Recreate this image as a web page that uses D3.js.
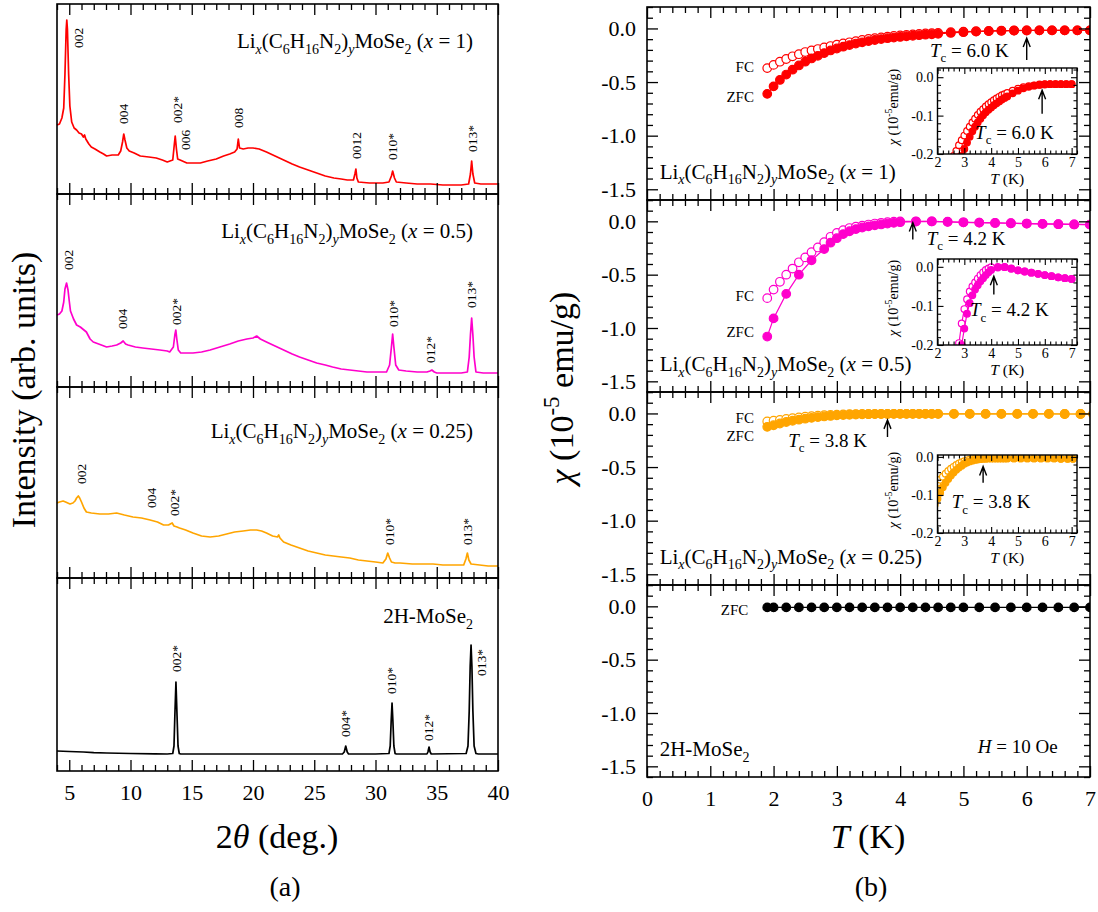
<!DOCTYPE html>
<meta charset="utf-8">
<style>
  body { margin: 0; background: #fff; }
  svg text { font-family: "Liberation Serif", "Times New Roman", serif; fill: #000; }
  .frame { fill: none; stroke: #000; stroke-width: 1.6; }
</style>
<body>
<svg id="fig" width="1098" height="912" font-family="Liberation Serif"></svg>
<script src="https://cdnjs.cloudflare.com/ajax/libs/d3/7.8.5/d3.min.js"></script>
<script>
// ---------- (a) XRD : [2theta, intensity (arb.)] ----------
var xrdTicks = [5, 10, 15, 20, 25, 30, 35, 40];

var xrdRed = [[4.0,69],[4.2,70],[4.4,76],[4.55,86],[4.65,120],[4.75,165],[4.8,174],[4.85,165],[4.95,120],[5.05,88],[5.2,72],[5.4,66],[5.6,64],[5.8,61],[6.0,60],[6.15,57],[6.25,59],[6.35,55],[6.6,50],[6.8,47],[7.1,45],[7.5,42],[7.8,40],[8.05,38],[8.5,39],[9.0,39],[9.2,43],[9.35,52],[9.45,60],[9.55,54],[9.7,46],[9.9,43],[10.3,41],[10.8,38],[11.5,37],[12.1,36],[12.6,34],[13.0,32],[13.45,34],[13.58,50],[13.65,58],[13.75,45],[13.85,35],[14.05,34],[14.6,31],[15.2,31],[15.7,31],[16.3,33],[17.0,35],[17.6,38],[18.1,40],[18.5,42],[18.7,45],[18.8,55],[18.9,46],[19.2,45],[19.6,46],[20.0,46],[20.5,45],[21.1,42],[21.8,38],[22.5,34],[23.2,30],[23.8,27],[24.5,24],[25.2,21],[25.9,18],[26.6,16],[27.2,15],[27.7,14],[28.2,14],[28.32,20],[28.4,25],[28.48,16],[28.6,12],[29.5,11],[30.6,11],[31.1,12],[31.3,18],[31.4,23],[31.55,16],[31.7,12],[32.5,11],[33.4,10],[34.5,10],[35.5,9],[36.1,9],[37.0,9],[37.6,10],[37.75,20],[37.85,33],[37.95,20],[38.1,11],[38.6,10],[39.3,10],[40,10]];
var xrdMagenta = [[4.0,72],[4.2,73],[4.4,76],[4.55,85],[4.65,98],[4.78,104],[4.9,97],[5.0,86],[5.1,76],[5.35,68],[5.6,62],[5.9,60],[6.2,57],[6.4,55],[6.7,48],[6.96,45],[7.4,43],[8.05,40],[8.5,41],[8.87,42],[9.2,44],[9.4,46],[9.6,43],[9.8,42],[10.4,40],[11.0,39],[11.7,38],[12.4,37],[13.0,36],[13.2,35],[13.5,40],[13.62,52],[13.7,57],[13.78,48],[13.9,37],[14.1,34],[14.6,34],[15.1,34],[15.8,35],[16.5,37],[17.3,40],[18.1,43],[18.8,46],[19.5,48],[20.0,49],[20.3,51],[20.6,48],[21.1,45],[21.8,41],[22.5,37],[23.2,33],[23.8,30],[24.5,27],[25.2,24],[25.9,22],[26.5,20],[27.2,18],[27.9,17],[28.6,16],[29.3,15],[30.1,15],[30.9,15],[31.15,22],[31.3,40],[31.4,53],[31.5,40],[31.65,22],[31.9,17],[32.5,16],[33.4,15],[34.2,15],[34.45,16],[34.6,17],[34.8,15],[35.0,14],[36.0,14],[37.0,14],[37.5,15],[37.65,30],[37.75,52],[37.85,69],[37.95,52],[38.05,30],[38.2,15],[38.8,14],[39.5,14],[40,14]];
var xrdOrange = [[4.0,75],[4.2,76],[4.5,77],[4.7,76],[5.06,74],[5.3,75],[5.47,77],[5.6,80],[5.74,82],[5.85,80],[6.0,76],[6.2,70],[6.4,66],[6.8,65],[7.5,64],[8.2,64],[8.87,65],[9.5,63],[10.2,61],[10.9,60],[11.6,58],[12.2,56],[12.7,53],[13.1,53],[13.4,55],[13.55,52],[13.8,51],[14.0,50],[14.5,48],[15.1,45],[15.8,42],[16.5,41],[17.2,42],[17.85,44],[18.5,46],[19.2,47],[19.8,48],[20.3,48],[20.7,47],[21.1,45],[21.6,42],[22.0,41],[22.1,43],[22.2,40],[22.5,36],[23.1,33],[23.8,30],[24.5,27],[25.2,25],[25.9,23],[26.55,22],[27.2,21],[27.9,20],[28.6,18],[29.3,17],[30.0,16],[30.6,15],[30.85,19],[31.0,25],[31.15,20],[31.3,16],[31.6,15],[32.0,15],[33.0,14],[34.0,14],[34.7,14],[35.5,13],[36.5,13],[37.2,13],[37.38,19],[37.5,25],[37.62,18],[37.8,14],[38.5,13],[39.2,12],[40,12]];
var xrdBlack = [[4.0,20],[5.0,19.5],[6.15,19],[7.0,18.3],[8.05,18],[10.0,17.5],[12.0,17.2],[13.0,17],[13.45,17.5],[13.55,25],[13.62,55],[13.71,89],[13.8,55],[13.88,25],[13.98,17.5],[14.1,17],[18.0,17],[22.0,17],[27.3,17],[27.45,19],[27.57,25],[27.69,19],[27.8,17],[30.0,17],[31.1,17.5],[31.2,25],[31.28,50],[31.35,68],[31.42,50],[31.5,25],[31.6,17.5],[31.7,17],[34.2,17],[34.28,19],[34.37,24],[34.46,19],[34.55,17],[37.4,17.5],[37.55,25],[37.65,60],[37.73,105],[37.8,126],[37.87,105],[37.95,60],[38.05,25],[38.2,17.5],[38.4,17],[40,17]];

// peak index labels: [label, 2theta, intensity at foot of label]
var peaksRed = [["002",5.75,146],["004",9.39,70],["002*",13.8,71],["006",14.5,44],["008",18.78,66],["0012",28.4,35],["010*",31.4,34],["013*",37.88,42]];
var peaksMagenta = [["002",4.93,117],["004",9.36,58],["002*",13.77,62],["010*",31.45,60],["012*",34.5,24],["013*",37.85,79]];
var peaksOrange = [["002",6.0,94],["004",11.73,70],["002*",13.55,62],["010*",31.13,33],["013*",37.53,33]];
var peaksBlack = [["002*",13.71,99],["004*",27.57,34],["010*",31.32,77],["012*",34.31,30],["013*",38.67,95]];

// ---------- (b) susceptibility : [T (K), chi (1e-5 emu/g)] ----------
var tTicks = [0, 1, 2, 3, 4, 5, 6, 7];
var chiTicks = [0, -0.5, -1.0, -1.5];
var chiTickLabels = ["0.0", "-0.5", "-1.0", "-1.5"];
var insetTTicks = [2, 3, 4, 5, 6, 7];
var insetChiTicks = [0, -0.1, -0.2];
var insetChiLabels = ["0.0", "-0.1", "-0.2"];
var tcValues = ["6.0", "4.2", "3.8"];
var xValues = ["1", "0.5", "0.25"];

var chiRedZFC = [[1.9,-0.61],[2.0,-0.54],[2.1,-0.48],[2.2,-0.43],[2.3,-0.385],[2.4,-0.345],[2.5,-0.31],[2.6,-0.28],[2.7,-0.255],[2.8,-0.23],[2.9,-0.205],[3.0,-0.187],[3.1,-0.17],[3.2,-0.155],[3.3,-0.141],[3.4,-0.129],[3.5,-0.118],[3.6,-0.108],[3.7,-0.099],[3.8,-0.091],[3.9,-0.085],[4.0,-0.079],[4.1,-0.073],[4.2,-0.068],[4.3,-0.063],[4.4,-0.058],[4.5,-0.054],[4.6,-0.05],[4.8,-0.042],[5.0,-0.035],[5.2,-0.029],[5.4,-0.025],[5.6,-0.022],[5.8,-0.02],[6.0,-0.019],[6.2,-0.018],[6.4,-0.018],[6.6,-0.018],[6.8,-0.018],[7.0,-0.018]];
var chiRedFC = [[1.9,-0.37],[2.0,-0.34],[2.1,-0.31],[2.2,-0.285],[2.3,-0.26],[2.4,-0.24],[2.5,-0.22],[2.6,-0.205],[2.7,-0.192],[2.8,-0.177],[2.9,-0.164],[3.0,-0.152],[3.1,-0.14],[3.2,-0.129],[3.3,-0.118],[3.4,-0.108],[3.5,-0.098],[3.6,-0.09],[3.7,-0.083],[3.8,-0.076],[3.9,-0.07],[4.0,-0.065],[4.1,-0.06],[4.2,-0.055],[4.3,-0.051],[4.4,-0.047],[4.5,-0.044],[4.6,-0.041],[4.8,-0.035],[5.0,-0.03],[5.2,-0.026],[5.4,-0.023],[5.6,-0.021],[5.8,-0.019],[6.0,-0.018],[6.2,-0.018],[6.4,-0.018],[6.6,-0.018],[6.8,-0.018],[7.0,-0.018]];
var chiMagZFC = [[1.9,-1.08],[2.0,-0.91],[2.2,-0.68],[2.4,-0.5],[2.6,-0.365],[2.8,-0.26],[2.9,-0.2],[3.0,-0.158],[3.1,-0.12],[3.2,-0.093],[3.3,-0.073],[3.4,-0.058],[3.5,-0.047],[3.6,-0.037],[3.7,-0.029],[3.8,-0.021],[3.9,-0.014],[4.0,-0.008],[4.25,-0.002],[4.5,0.0],[4.75,-0.004],[5.0,-0.009],[5.25,-0.012],[5.5,-0.015],[5.75,-0.018],[6.0,-0.021],[6.25,-0.024],[6.5,-0.027],[6.75,-0.029],[7.0,-0.031]];
var chiMagFC = [[1.9,-0.72],[2.0,-0.64],[2.1,-0.567],[2.2,-0.5],[2.3,-0.443],[2.4,-0.384],[2.5,-0.338],[2.6,-0.29],[2.7,-0.245],[2.8,-0.195],[2.9,-0.145],[3.0,-0.108],[3.1,-0.083],[3.2,-0.063],[3.3,-0.05],[3.4,-0.04],[3.5,-0.03],[3.6,-0.021],[3.7,-0.014],[3.8,-0.008],[3.9,-0.004],[4.0,-0.001],[4.25,0.0],[4.5,-0.001],[4.75,-0.005],[5.0,-0.009],[5.25,-0.012],[5.5,-0.015],[5.75,-0.018],[6.0,-0.021],[6.25,-0.024],[6.5,-0.027],[6.75,-0.029],[7.0,-0.031]];
var chiOrZFC = [[1.9,-0.125],[2.0,-0.11],[2.1,-0.094],[2.2,-0.08],[2.3,-0.068],[2.4,-0.058],[2.5,-0.049],[2.6,-0.041],[2.7,-0.034],[2.8,-0.028],[2.9,-0.023],[3.0,-0.018],[3.1,-0.015],[3.2,-0.012],[3.3,-0.01],[3.4,-0.008],[3.5,-0.007],[3.6,-0.006],[3.7,-0.005],[3.8,-0.005],[3.9,-0.004],[4.0,-0.004],[4.1,-0.004],[4.2,-0.004],[4.3,-0.004],[4.4,-0.004],[4.5,-0.004],[4.6,-0.004],[4.85,-0.004],[5.1,-0.004],[5.35,-0.004],[5.6,-0.004],[5.85,-0.004],[6.1,-0.004],[6.35,-0.004],[6.6,-0.005],[6.85,-0.005],[7.05,-0.005]];
var chiOrFC = [[1.9,-0.075],[2.0,-0.068],[2.1,-0.06],[2.2,-0.052],[2.3,-0.044],[2.4,-0.037],[2.5,-0.031],[2.6,-0.026],[2.7,-0.021],[2.8,-0.017],[2.9,-0.014],[3.0,-0.011],[3.1,-0.009],[3.2,-0.007],[3.3,-0.006],[3.4,-0.005],[3.5,-0.005],[3.6,-0.004],[3.7,-0.004],[3.8,-0.004],[3.9,-0.004],[4.0,-0.004],[4.1,-0.004],[4.2,-0.004],[4.3,-0.004],[4.4,-0.004],[4.5,-0.004],[4.6,-0.004],[4.85,-0.004],[5.1,-0.004],[5.35,-0.004],[5.6,-0.004],[5.85,-0.004],[6.1,-0.004],[6.35,-0.004],[6.6,-0.005],[6.85,-0.005],[7.05,-0.005]];
var chiBlackZFC = [[1.9,-0.01],[2.0,-0.01],[2.2,-0.01],[2.4,-0.01],[2.6,-0.01],[2.8,-0.01],[3.0,-0.01],[3.2,-0.01],[3.4,-0.01],[3.6,-0.01],[3.8,-0.01],[4.0,-0.01],[4.2,-0.01],[4.4,-0.01],[4.6,-0.01],[4.8,-0.01],[5.0,-0.01],[5.25,-0.01],[5.5,-0.01],[5.75,-0.01],[6.0,-0.01],[6.25,-0.01],[6.5,-0.01],[6.75,-0.01],[7.0,-0.01]];

var colors = ["#ff0000", "#ff00cc", "#ffa500", "#000000"];

// ---------- helpers ----------
var svg = d3.select("#fig");
var serif = "Liberation Serif";

function rich(sel, parts, size) {
  var off = 0;
  parts.forEach(function(p) {
    var shift = p.sub ? size * 0.28 : (p.sup ? -size * 0.42 : 0);
    var ts = sel.append("tspan").attr("dy", shift - off).text(p.t);
    if (p.sub || p.sup) ts.style("font-size", Math.round(size * 0.68) + "px");
    if (p.it) ts.style("font-style", "italic");
    off = shift;
  });
  return sel;
}
function formula(x) {
  return [{t:"Li"},{t:"x",sub:1,it:1},{t:"(C"},{t:"6",sub:1},{t:"H"},{t:"16",sub:1},{t:"N"},{t:"2",sub:1},{t:")"},{t:"y",sub:1,it:1},{t:"MoSe"},{t:"2",sub:1},{t:" ("},{t:"x",it:1},{t:" = " + x + ")"}];
}
var mose2 = [{t:"2H-MoSe"},{t:"2",sub:1}];
function tcParts(v) { return [{t:"T",it:1},{t:"c",sub:1},{t:" = " + v + " K"}]; }

function ticksX(g, x, yPos, values, len, dir, w) {
  g.append("g").attr("transform", "translate(0," + yPos + ")")
    .call(d3.axisBottom(x).tickValues(values).tickSize(len * dir).tickFormat(""))
    .call(function(a) { a.select(".domain").remove(); a.selectAll("text").remove(); a.selectAll("line").attr("stroke-width", w || 1.3); });
}
function ticksY(g, y, xPos, values, len, dir, w) {
  g.append("g").attr("transform", "translate(" + xPos + ",0)")
    .call(d3.axisRight(y).tickValues(values).tickSize(len * dir).tickFormat(""))
    .call(function(a) { a.select(".domain").remove(); a.selectAll("text").remove(); a.selectAll("line").attr("stroke-width", w || 1.3); });
}
function labelAxis(a, size) {
  a.attr("font-family", serif);
  a.select(".domain").remove();
  a.selectAll("text").style("font-size", size + "px").style("font-family", serif);
}
function notMajor(step) {
  return function(v) { return Math.abs(v / step - Math.round(v / step)) > 0.01; };
}

// ---------- panel (a) ----------
var xA = d3.scaleLinear().domain([4, 40]).range([57, 498]);
var aEdges = [4, 194, 387, 578, 771];
var aTitleOff = [44, 44, 51, 45];
var aMinor = d3.range(4, 40.5, 1).filter(notMajor(5));
var xrdSets = [
  {data: xrdRed, peaks: peaksRed, title: formula(xValues[0])},
  {data: xrdMagenta, peaks: peaksMagenta, title: formula(xValues[1])},
  {data: xrdOrange, peaks: peaksOrange, title: formula(xValues[2])},
  {data: xrdBlack, peaks: peaksBlack, title: mose2}
];

xrdSets.forEach(function(s, i) {
  var top = aEdges[i], bot = aEdges[i + 1];
  var y = d3.scaleLinear().domain([0, bot - top]).range([bot, top]);
  var g = svg.append("g");
  g.append("path").datum(s.data)
    .attr("fill", "none").attr("stroke", colors[i]).attr("stroke-width", 1.7)
    .attr("stroke-linejoin", "round")
    .attr("d", d3.line().x(function(d) { return xA(d[0]); }).y(function(d) { return y(d[1]); }));
  g.selectAll("text.peak").data(s.peaks).join("text")
    .attr("class", "peak")
    .attr("transform", function(d) { return "translate(" + xA(d[1]) + "," + y(d[2]) + ") rotate(-90)"; })
    .attr("dy", "0.35em").style("font-size", "13.5px")
    .text(function(d) { return d[0]; });
  rich(g.append("text").attr("x", 473).attr("y", top + aTitleOff[i])
    .attr("text-anchor", "end").style("font-size", "21px"), s.title, 21);
  ticksX(g, xA, top, xrdTicks, 11, 1);
  ticksX(g, xA, top, aMinor, 6, 1);
  ticksX(g, xA, bot, xrdTicks, 11, -1);
  ticksX(g, xA, bot, aMinor, 6, -1);
  g.append("rect").attr("class", "frame").attr("x", xA(4)).attr("y", top)
    .attr("width", xA(40) - xA(4)).attr("height", bot - top);
});

svg.append("g").attr("transform", "translate(0,771)")
  .call(d3.axisBottom(xA).tickValues(xrdTicks).tickSize(0).tickPadding(13).tickFormat(d3.format("d")))
  .call(function(a) { labelAxis(a, 22); });

rich(svg.append("text").attr("transform", "translate(35,390) rotate(-90)")
  .attr("text-anchor", "middle").style("font-size", "34px"), [{t:"Intensity (arb. units)"}], 34);
rich(svg.append("text").attr("x", 277).attr("y", 848).attr("text-anchor", "middle")
  .style("font-size", "34px"), [{t:"2"},{t:"θ",it:1},{t:" (deg.)"}], 34);
svg.append("text").attr("x", 285).attr("y", 896).attr("text-anchor", "middle")
  .style("font-size", "28px").text("(a)");

// ---------- panel (b) ----------
var xB = d3.scaleLinear().domain([0, 7]).range([647, 1090]);
var bEdges = [7, 200, 392, 585, 777];
var tMinor = d3.range(0, 7.01, 0.2).filter(notMajor(1));
var chiMinor = d3.range(-1.6, 0.21, 0.1).filter(notMajor(0.5));

var chiSets = [
  {zfc: chiRedZFC, fc: chiRedFC, title: formula(xValues[0])},
  {zfc: chiMagZFC, fc: chiMagFC, title: formula(xValues[1])},
  {zfc: chiOrZFC, fc: chiOrFC, title: formula(xValues[2])},
  {zfc: chiBlackZFC, fc: null, title: mose2}
];
// annotation placement (data coordinates of each panel)
var labelFC = [[1.69,-0.41],[1.69,-0.75],[1.69,-0.09],null];
var labelZFC = [[1.69,-0.69],[1.69,-1.08],[1.69,-0.26],[1.6,-0.08]];
var tcText = [[4.47,-0.266],[4.42,-0.22],[2.23,-0.31]];
var tcArrow = [[6.0,-0.295,-0.09],[4.2,-0.17,-0.012],[3.8,-0.22,-0.06]];
var insetBox = [[68,154,0.024],[259,345,0.02],[455,533,0.005]];
var insetTcText = [[3.4,-0.161],[3.21,-0.127],[2.53,-0.135]];
var insetArrow = [[5.9,-0.095,-0.034],[4.1,-0.071,-0.024],[3.7,-0.068,-0.025]];

function series(g, data, x, y, color, open, r) {
  g.append("path").datum(data)
    .attr("fill", "none").attr("stroke", color).attr("stroke-width", 1.2)
    .attr("d", d3.line().x(function(d) { return x(d[0]); }).y(function(d) { return y(d[1]); }));
  g.selectAll(null).data(data).join("circle")
    .attr("cx", function(d) { return x(d[0]); })
    .attr("cy", function(d) { return y(d[1]); })
    .attr("r", r)
    .attr("fill", open ? "#fff" : color)
    .attr("stroke", color).attr("stroke-width", 1.2);
}
function arrow(g, x, y1, y2) {
  g.append("path")
    .attr("d", "M" + x + "," + y1 + "L" + x + "," + y2 + "M" + (x - 3.5) + "," + (y2 + 9) + "L" + x + "," + y2 + "L" + (x + 3.5) + "," + (y2 + 9))
    .attr("fill", "none").attr("stroke", "#000").attr("stroke-width", 1.4);
}

chiSets.forEach(function(s, i) {
  var top = bEdges[i], bot = bEdges[i + 1];
  var y = d3.scaleLinear().domain([-1.6, 0.2]).range([bot, top]);
  var g = svg.append("g");
  var cid = "clipB" + i;
  g.append("clipPath").attr("id", cid).append("rect")
    .attr("x", xB(0)).attr("y", top).attr("width", xB(7) - xB(0)).attr("height", bot - top);
  var dg = g.append("g").attr("clip-path", "url(#" + cid + ")");
  if (s.fc) series(dg, s.fc, xB, y, colors[i], true, 4.3);
  series(dg, s.zfc, xB, y, colors[i], false, 4.3);

  if (labelFC[i]) g.append("text").attr("x", xB(labelFC[i][0])).attr("y", y(labelFC[i][1]))
    .attr("text-anchor", "end").style("font-size", "15px").text("FC");
  g.append("text").attr("x", xB(labelZFC[i][0])).attr("y", y(labelZFC[i][1]))
    .attr("text-anchor", "end").style("font-size", "15px").text("ZFC");

  rich(g.append("text").attr("x", xB(0.2)).attr("y", y(-1.4)).style("font-size", "21px"), s.title, 21);

  ticksX(g, xB, top, tTicks, 11, 1);
  ticksX(g, xB, top, tMinor, 6, 1);
  ticksX(g, xB, bot, tTicks, 11, -1);
  ticksX(g, xB, bot, tMinor, 6, -1);
  ticksY(g, y, xB(0), chiTicks, 11, 1);
  ticksY(g, y, xB(0), chiMinor, 6, 1);
  ticksY(g, y, xB(7), chiTicks, 11, -1);
  ticksY(g, y, xB(7), chiMinor, 6, -1);
  g.append("rect").attr("class", "frame").attr("x", xB(0)).attr("y", top)
    .attr("width", xB(7) - xB(0)).attr("height", bot - top);

  g.append("g").attr("transform", "translate(" + xB(0) + ",0)")
    .call(d3.axisLeft(y).tickValues(chiTicks).tickSize(0).tickPadding(11)
      .tickFormat(function(d, k) { return chiTickLabels[k]; }))
    .call(function(a) { labelAxis(a, 22); });

  if (i < 3) {
    rich(g.append("text").attr("x", xB(tcText[i][0])).attr("y", y(tcText[i][1])).style("font-size", "19px"), tcParts(tcValues[i]), 19);
    arrow(g, xB(tcArrow[i][0]), y(tcArrow[i][1]), y(tcArrow[i][2]));

    // inset
    var b = insetBox[i];
    var xi = d3.scaleLinear().domain([2, 7.2]).range([937.5, 1077]);
    var yi = d3.scaleLinear().domain([-0.2, b[2]]).range([b[1], b[0]]);
    var ig = g.append("g");
    ig.append("rect").attr("x", xi(2)).attr("y", b[0]).attr("width", xi(7.2) - xi(2))
      .attr("height", b[1] - b[0]).attr("fill", "#fff");
    var icid = "clipI" + i;
    ig.append("clipPath").attr("id", icid).append("rect")
      .attr("x", xi(2)).attr("y", b[0]).attr("width", xi(7.2) - xi(2)).attr("height", b[1] - b[0]);
    var idg = ig.append("g").attr("clip-path", "url(#" + icid + ")");
    series(idg, s.fc, xi, yi, colors[i], true, 3.3);
    series(idg, s.zfc, xi, yi, colors[i], false, 3.3);

    var iTMinor = d3.range(2, 7.21, 0.2).filter(notMajor(1));
    var iChiMinor = d3.range(-0.2, b[2] + 0.001, 0.02).filter(notMajor(0.1));
    ticksX(ig, xi, b[0], insetTTicks, 6, 1, 1.1);
    ticksX(ig, xi, b[0], iTMinor, 3.5, 1, 1.1);
    ticksX(ig, xi, b[1], insetTTicks, 6, -1, 1.1);
    ticksX(ig, xi, b[1], iTMinor, 3.5, -1, 1.1);
    ticksY(ig, yi, xi(2), insetChiTicks, 6, 1, 1.1);
    ticksY(ig, yi, xi(2), iChiMinor, 3.5, 1, 1.1);
    ticksY(ig, yi, xi(7.2), insetChiTicks, 6, -1, 1.1);
    ticksY(ig, yi, xi(7.2), iChiMinor, 3.5, -1, 1.1);
    ig.append("rect").attr("x", xi(2)).attr("y", b[0]).attr("width", xi(7.2) - xi(2))
      .attr("height", b[1] - b[0]).attr("fill", "none").attr("stroke", "#000").attr("stroke-width", 1.4);

    ig.append("g").attr("transform", "translate(0," + b[1] + ")")
      .call(d3.axisBottom(xi).tickValues(insetTTicks).tickSize(0).tickPadding(3).tickFormat(d3.format("d")))
      .call(function(a) { labelAxis(a, 14); });
    ig.append("g").attr("transform", "translate(" + xi(2) + ",0)")
      .call(d3.axisLeft(yi).tickValues(insetChiTicks).tickSize(0).tickPadding(4)
        .tickFormat(function(d, k) { return insetChiLabels[k]; }))
      .call(function(a) { labelAxis(a, 14); });
    rich(ig.append("text").attr("x", (xi(2) + xi(7.2)) / 2).attr("y", b[1] + 30)
      .attr("text-anchor", "middle").style("font-size", "15.5px"), [{t:"T",it:1},{t:" (K)"}], 15.5);
    rich(ig.append("text").attr("transform", "translate(898," + ((b[0] + b[1]) / 2 - 4) + ") rotate(-90)")
      .attr("text-anchor", "middle").style("font-size", "14px"),
      [{t:"χ",it:1},{t:" (10"},{t:"-5",sup:1},{t:"emu/g)"}], 14);

    rich(ig.append("text").attr("x", xi(insetTcText[i][0])).attr("y", yi(insetTcText[i][1])).style("font-size", "19px"), tcParts(tcValues[i]), 19);
    arrow(ig, xi(insetArrow[i][0]), yi(insetArrow[i][1]), yi(insetArrow[i][2]));
  } else {
    rich(g.append("text").attr("x", xB(6.49)).attr("y", y(-1.377)).attr("text-anchor", "end")
      .style("font-size", "19px"), [{t:"H",it:1},{t:" = 10 Oe"}], 19);
  }
});

svg.append("g").attr("transform", "translate(0,777)")
  .call(d3.axisBottom(xB).tickValues(tTicks).tickSize(0).tickPadding(13).tickFormat(d3.format("d")))
  .call(function(a) { labelAxis(a, 22); });

rich(svg.append("text").attr("transform", "translate(573,388) rotate(-90)")
  .attr("text-anchor", "middle").style("font-size", "34px"),
  [{t:"χ",it:1},{t:" (10"},{t:"-5",sup:1},{t:" emu/g)"}], 34);
rich(svg.append("text").attr("x", 868).attr("y", 848).attr("text-anchor", "middle")
  .style("font-size", "34px"), [{t:"T",it:1},{t:" (K)"}], 34);
svg.append("text").attr("x", 871).attr("y", 896).attr("text-anchor", "middle")
  .style("font-size", "28px").text("(b)");
</script>
</body>
